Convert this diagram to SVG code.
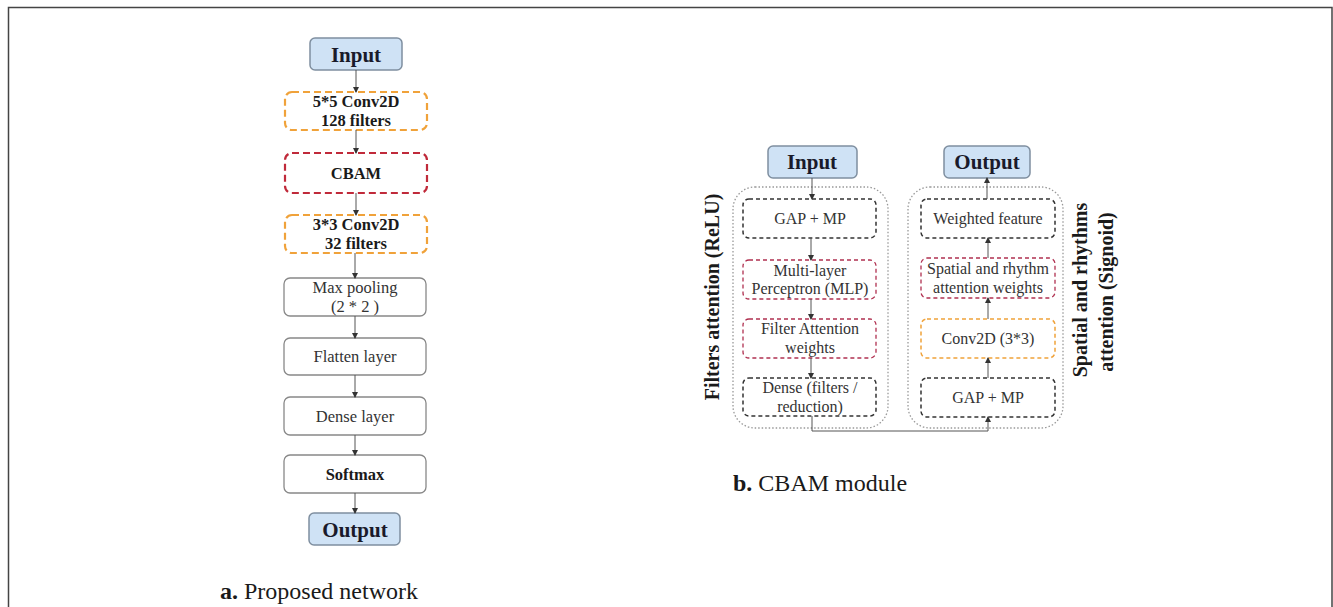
<svg xmlns="http://www.w3.org/2000/svg" width="1333" height="607" viewBox="0 0 1333 607">
<defs>
<marker id="ah" markerWidth="6" markerHeight="6" refX="5" refY="3" orient="auto" markerUnits="userSpaceOnUse">
<path d="M0,0 L6,3 L0,6 z" fill="#333"/>
</marker>
<style>
text{font-family:"Liberation Serif","Times New Roman",serif;fill:#333;}
.io{fill:#cfe2f5;stroke:#7f8fa0;stroke-width:1.5;}
.iot{font-size:21px;font-weight:bold;fill:#1a1a2a;text-anchor:middle;}
.or{fill:#fff;stroke:#f0a23a;stroke-width:2.2;stroke-dasharray:7,4;}
.rd{fill:#fff;stroke:#c02a3a;stroke-width:2.2;stroke-dasharray:7,4;}
.sol{fill:#fff;stroke:#888;stroke-width:1.3;}
.bt{font-size:16.5px;font-weight:bold;fill:#1a1a1a;text-anchor:middle;}
.nt{font-size:16.5px;fill:#333;text-anchor:middle;}
.nr{font-size:16px;fill:#333;text-anchor:middle;}
.dk{fill:#fff;stroke:#333;stroke-width:1.5;stroke-dasharray:4,3;}
.rs{fill:#fff;stroke:#b03050;stroke-width:1.3;stroke-dasharray:4,3;}
.os{fill:#fff;stroke:#f0a23a;stroke-width:1.5;stroke-dasharray:4,3;}
.cont{fill:none;stroke:#999;stroke-width:1.3;stroke-dasharray:1.5,2;}
.ln{stroke:#555;stroke-width:1;fill:none;}
.side{font-size:20px;font-weight:bold;fill:#1a1a1a;text-anchor:middle;}
.cap{font-size:24px;fill:#1a1a1a;}
</style>
</defs>
<rect x="0" y="0" width="1333" height="607" fill="#fff"/>
<path d="M8.5,607 L8.5,7.5 L1332,7.5 L1332,607" fill="none" stroke="#444" stroke-width="1.5"/>

<!-- Left: proposed network -->
<g id="a-input"><rect class="io" x="310" y="38" width="92" height="32" rx="5"/><text class="iot" x="356" y="62">Input</text></g>
<g id="a-conv55"><rect class="or" x="285" y="92" width="142" height="38" rx="7"/><text class="bt" x="356" y="107">5*5 Conv2D</text><text class="bt" x="356" y="126">128 filters</text></g>
<g id="a-cbam"><rect class="rd" x="285" y="153" width="142" height="40" rx="7"/><text class="bt" x="356" y="179">CBAM</text></g>
<g id="a-conv33"><rect class="or" x="285" y="215" width="142" height="38" rx="7"/><text class="bt" x="356" y="230">3*3 Conv2D</text><text class="bt" x="356" y="249">32 filters</text></g>
<g id="a-maxpool"><rect class="sol" x="284" y="278" width="142" height="38" rx="6"/><text class="nt" x="355" y="293">Max pooling</text><text class="nt" x="355" y="312">(2 * 2 )</text></g>
<g id="a-flatten"><rect class="sol" x="284" y="338" width="142" height="37" rx="6"/><text class="nt" x="355" y="362">Flatten layer</text></g>
<g id="a-dense"><rect class="sol" x="284" y="397" width="142" height="38" rx="6"/><text class="nt" x="355" y="422">Dense layer</text></g>
<g id="a-softmax"><rect class="sol" x="284" y="455" width="142" height="38" rx="6"/><text class="bt" x="355" y="480">Softmax</text></g>
<g id="a-output"><rect class="io" x="309" y="513" width="91" height="32" rx="5"/><text class="iot" x="355" y="537">Output</text></g>

<!-- Right: CBAM module -->
<g id="b-containers"><rect class="cont" x="733" y="187" width="155" height="241" rx="22"/><rect class="cont" x="908" y="187" width="155" height="241" rx="22"/></g>
<g id="b-input"><rect class="io" x="768" y="146" width="89" height="32" rx="5"/><text class="iot" x="812" y="169">Input</text></g>
<g id="b-output"><rect class="io" x="944" y="146" width="86" height="32" rx="5"/><text class="iot" x="987" y="169">Output</text></g>
<g id="b-gap1"><rect class="dk" x="743" y="199" width="133" height="39" rx="6"/><text class="nr" x="810" y="224">GAP + MP</text></g>
<g id="b-mlp"><rect class="rs" x="743" y="260" width="133" height="39" rx="6"/><text class="nr" x="810" y="276">Multi-layer</text><text class="nr" x="810" y="294">Perceptron (MLP)</text></g>
<g id="b-faw"><rect class="rs" x="743" y="319" width="133" height="39" rx="6"/><text class="nr" x="810" y="334">Filter Attention</text><text class="nr" x="810" y="353">weights</text></g>
<g id="b-dense"><rect class="dk" x="743" y="378" width="133" height="38" rx="6"/><text class="nr" x="810" y="393">Dense (filters /</text><text class="nr" x="810" y="412">reduction)</text></g>
<g id="b-weighted"><rect class="dk" x="921" y="199" width="134" height="39" rx="6"/><text class="nr" x="988" y="224">Weighted feature</text></g>
<g id="b-spatial"><rect class="rs" x="921" y="258" width="134" height="40" rx="6"/><text class="nr" x="988" y="274">Spatial and rhythm</text><text class="nr" x="988" y="293">attention weights</text></g>
<g id="b-conv"><rect class="os" x="921" y="319" width="134" height="39" rx="6"/><text class="nr" x="988" y="344">Conv2D (3*3)</text></g>
<g id="b-gap2"><rect class="dk" x="921" y="378" width="134" height="39" rx="6"/><text class="nr" x="988" y="403">GAP + MP</text></g>

<g id="b-side-labels">
<text class="side" transform="translate(719,297) rotate(-90)">Filters attention (ReLU)</text>
<text class="side" transform="translate(1087,290) rotate(-90)">Spatial and rhythms</text>
<text class="side" transform="translate(1113,292) rotate(-90)">attention (Signoid)</text>
</g>

<g id="connectors">
<line class="ln" x1="356" y1="70" x2="356" y2="92" marker-end="url(#ah)"/>
<line class="ln" x1="356" y1="130" x2="356" y2="153" marker-end="url(#ah)"/>
<line class="ln" x1="356" y1="193" x2="356" y2="215" marker-end="url(#ah)"/>
<line class="ln" x1="355" y1="253" x2="355" y2="278" marker-end="url(#ah)"/>
<line class="ln" x1="355" y1="316" x2="355" y2="338" marker-end="url(#ah)"/>
<line class="ln" x1="355" y1="375" x2="355" y2="397" marker-end="url(#ah)"/>
<line class="ln" x1="355" y1="435" x2="355" y2="455" marker-end="url(#ah)"/>
<line class="ln" x1="355" y1="493" x2="355" y2="513" marker-end="url(#ah)"/>

<line class="ln" x1="812" y1="178" x2="812" y2="199" marker-end="url(#ah)"/>
<line class="ln" x1="811" y1="238" x2="811" y2="260" marker-end="url(#ah)"/>
<line class="ln" x1="811" y1="299" x2="811" y2="319" marker-end="url(#ah)"/>
<line class="ln" x1="811" y1="358" x2="811" y2="378" marker-end="url(#ah)"/>
<path class="ln" d="M812,416 L812,431 L988,431 L988,417" marker-end="url(#ah)"/>
<line class="ln" x1="988" y1="378" x2="988" y2="358" marker-end="url(#ah)"/>
<line class="ln" x1="988" y1="319" x2="988" y2="298" marker-end="url(#ah)"/>
<line class="ln" x1="988" y1="258" x2="988" y2="238" marker-end="url(#ah)"/>
<line class="ln" x1="987" y1="199" x2="987" y2="178" marker-end="url(#ah)"/>
</g>

<g id="captions">
<text class="cap" x="220" y="599"><tspan font-weight="bold">a.</tspan>  Proposed network</text>
<text class="cap" x="733" y="491"><tspan font-weight="bold">b.</tspan>  CBAM module</text>
</g>
</svg>
